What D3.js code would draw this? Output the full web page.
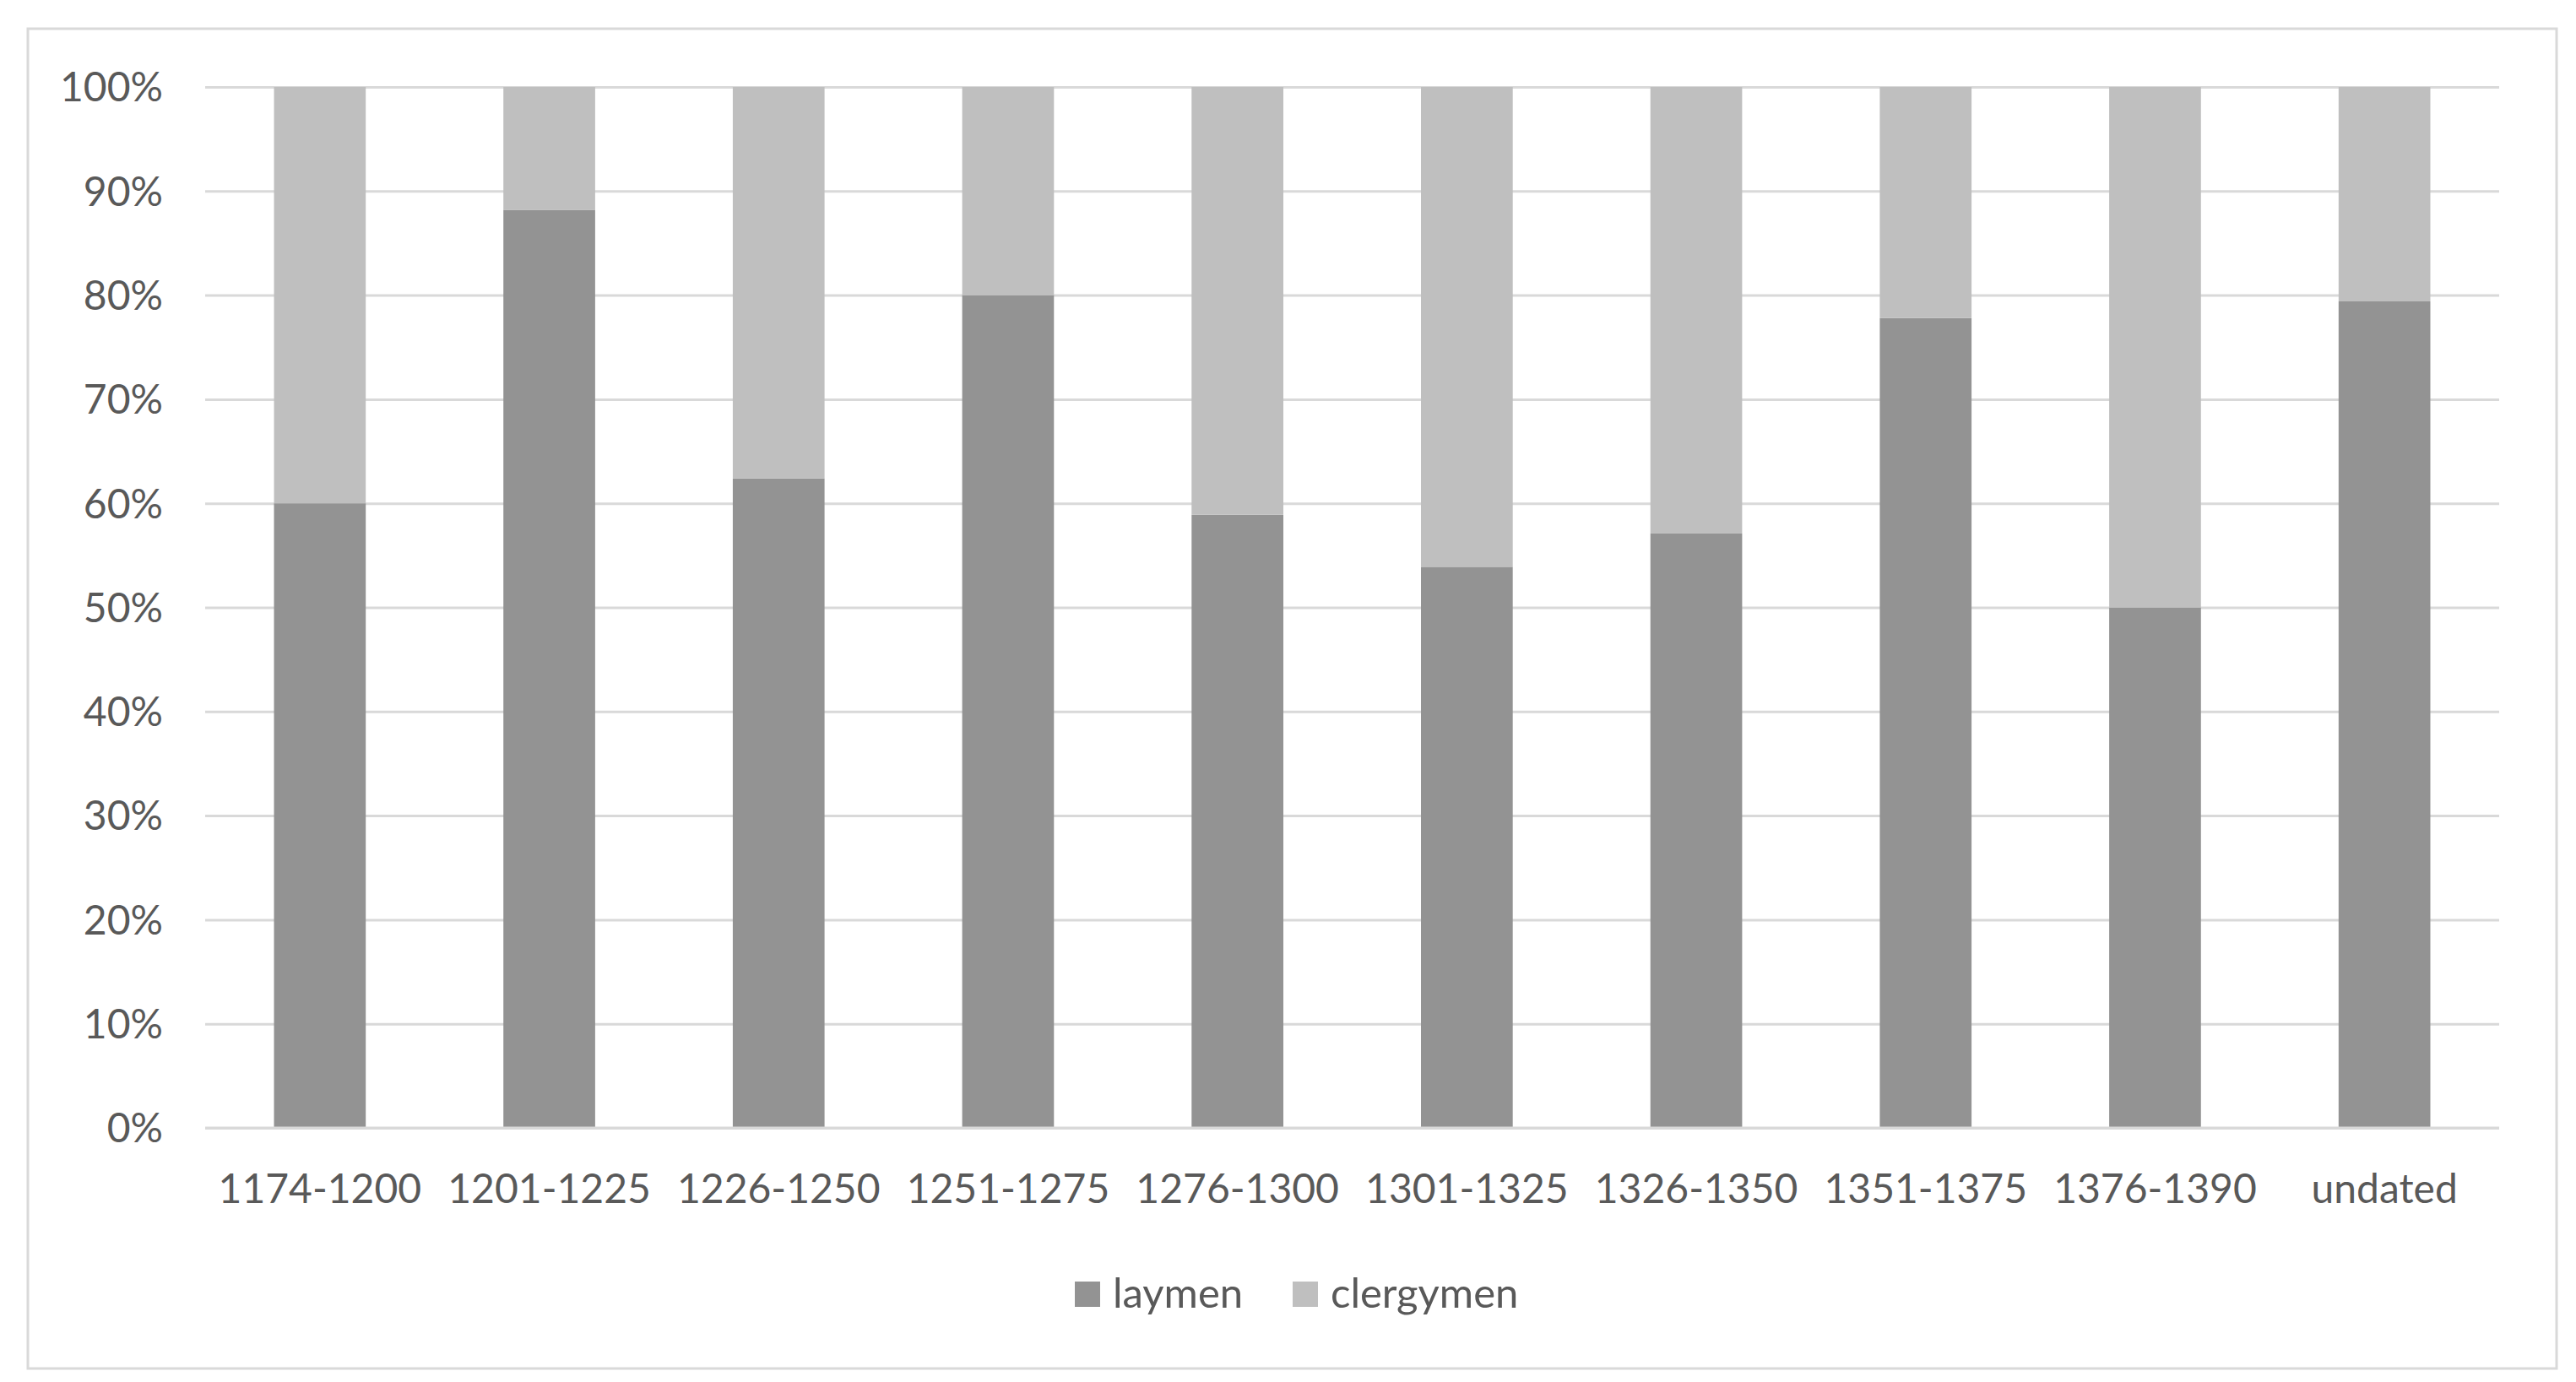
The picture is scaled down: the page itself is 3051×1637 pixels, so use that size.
<!DOCTYPE html>
<html>
<head>
<meta charset="utf-8">
<script src="https://cdn.jsdelivr.net/npm/d3@7"></script>
<style>
  html, body { margin: 0; padding: 0; background: #ffffff; }
  svg { display: block; }
</style>
</head>
<body>
<svg id="chart" width="3051" height="1637"></svg>
<script>
const categories = ["1174-1200","1201-1225","1226-1250","1251-1275","1276-1300","1301-1325","1326-1350","1351-1375","1376-1390","undated"];
const laymen    = [60.0, 88.2, 62.4, 80.0, 58.9, 53.9, 57.1, 77.8, 50.0, 79.4];
const clergymen = [40.0, 11.8, 37.6, 20.0, 41.1, 46.1, 42.9, 22.2, 50.0, 20.6];
const seriesNames = ["laymen", "clergymen"];
const seriesColors = ["#939393", "#bfbfbf"];
const yTicks = [0,10,20,30,40,50,60,70,80,90,100];

const svg = d3.select("#chart");
const FONT = "Lato, 'Open Sans', sans-serif";
const TEXT = "#595959";

// chart frame
svg.append("rect")
  .attr("x", 33).attr("y", 34).attr("width", 2995).attr("height", 1587)
  .attr("fill", "#ffffff").attr("stroke", "#d9d9d9").attr("stroke-width", 3);

const plot = { left: 243, right: 2960, top: 103, bottom: 1336 };

const x = d3.scaleBand().domain(categories).range([plot.left, plot.right])
  .paddingInner(0.6).paddingOuter(0.3);
const y = d3.scaleLinear().domain([0, 100]).range([plot.bottom, plot.top]);

// gridlines + y labels
const yAxis = d3.axisLeft(y).tickValues(yTicks).tickFormat(d => d + "%")
  .tickSize(-(plot.right - plot.left)).tickPadding(50);
const gy = svg.append("g").attr("transform", `translate(${plot.left},0)`).call(yAxis);
gy.select(".domain").remove();
gy.selectAll(".tick line").attr("stroke", "#d9d9d9").attr("stroke-width", 3);
gy.selectAll(".tick text").attr("fill", TEXT).attr("font-family", FONT)
  .attr("font-size", 48).attr("dy", "0.35em");

// stacked data
const rows = categories.map((c, i) => ({ cat: c, laymen: laymen[i], clergymen: clergymen[i] }));
const stack = d3.stack().keys(seriesNames)(rows);

svg.append("g").selectAll("g").data(stack).join("g")
  .attr("fill", (d, i) => seriesColors[i])
  .selectAll("rect").data(d => d).join("rect")
  .attr("x", d => x(d.data.cat))
  .attr("width", x.bandwidth())
  .attr("y", d => y(d[1]))
  .attr("height", d => y(d[0]) - y(d[1]));

// x axis
const xAxis = d3.axisBottom(x).tickSize(0).tickPadding(55);
const gx = svg.append("g").attr("transform", `translate(0,${plot.bottom})`).call(xAxis);
gx.select(".domain").attr("stroke", "#d9d9d9").attr("stroke-width", 3)
  .attr("d", `M${plot.left},0H${plot.right}`);
gx.selectAll(".tick text").attr("fill", TEXT).attr("font-family", FONT).attr("font-size", 48);

// legend
const legendItems = [
  { name: seriesNames[0], color: seriesColors[0], sx: 1273, tx: 1318 },
  { name: seriesNames[1], color: seriesColors[1], sx: 1531, tx: 1576 }
];
const lg = svg.append("g");
legendItems.forEach(it => {
  lg.append("rect").attr("x", it.sx).attr("y", 1518).attr("width", 30).attr("height", 30).attr("fill", it.color);
  lg.append("text").attr("x", it.tx).attr("y", 1549).attr("fill", TEXT)
    .attr("font-family", FONT).attr("font-size", 49).text(it.name);
});
</script>
</body>
</html>
